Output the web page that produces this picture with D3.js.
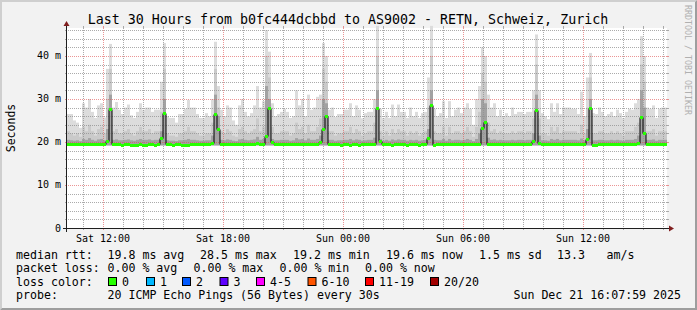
<!DOCTYPE html>
<html><head><meta charset="utf-8">
<script src="https://cdn.jsdelivr.net/npm/d3@7"></script>
<style>
body{margin:0;background:#f2f2f2}
svg{display:block}
text{font-family:"DejaVu Sans Mono",monospace}
</style>
</head><body>
<svg id="chart" width="697" height="310"></svg>
<script>
// ---- data (one column = 9 minutes, 200 columns = 30 hours) ----
const startTime = new Date(2025, 11, 20, 10, 12);
const endTime = new Date(2025, 11, 21, 16, 12);
const stepMinutes = 9;
const yMaxValue = 46.5;
const minPing = 19.2;

const pMax = [26.5,26.5,25,24.5,23.3,29,28,30,27,25.6,
28.5,29,25.7,37,42.8,28,29.3,27.5,26.5,28,
28.7,26.2,25.6,27,29,27.5,28,28,27,27.5,
27.5,34,43,26,25.6,25.6,24.5,26.5,26.5,27.7,
29.8,28,28,26.5,25.6,25.6,26.7,26,30,43.3,
33,27.5,26,28.5,28,25,24,28.5,30,27,
26,26.7,28.5,33,28,29.5,46,41,29,26,
26.5,27,27.7,27,25.6,26,32,28.5,30,26,
31,27.5,28,30.5,31,43,40,27.5,28,25.8,
26.5,26.5,27.5,27.5,29,26,28.5,27.5,25.5,26.7,
27,27,30,47,27.7,25.6,27,25.6,28.7,26,
28.7,27,27,25.6,28,26,27,25.6,26.7,27,
35,47,27.7,26,26.7,29.5,25.6,29.5,26,27.5,
28,26.7,28,29,27.7,24,30,33,42,40,
31,28,29,26,27.5,26,26.7,26,28,26.5,
27,27,26.5,27,27,32,45,32,26.7,26,
25.3,29,27,29,26.5,28,28,28,27.7,27.7,
26.5,31.7,26,35,40.7,26.7,26.5,28,27,26,
26.5,27,26,27.5,26.7,25.6,27,27.7,27.5,29,
30,44.6,40,28,27.7,28.5,25.6,27.7,28,28];

const pMid = [22.5,22,21.5,22,21.2,23.5,22.5,24,22.5,21.5,
23,23.5,22,30,37,22.5,23,22,22,22.5,
23,22,21.5,22.5,23.5,22.5,22.5,23,22,22.5,
22.5,27,37,22,21.5,21.5,21.2,22,22,22.5,
23.5,22.5,22.5,22,21.5,21.5,22,22,24.5,37,
28,22.5,22,23,22.5,21.5,21.2,23,23.5,22.5,
22,22.5,23,25.5,22.5,23.5,40,35,23.5,22,
22,22.5,22.5,22.5,21.5,22,24.5,23,23.5,22,
24,22.5,22.5,23.5,25.5,37,34,22.5,22.5,21.5,
22,22,22.5,22.5,23.5,22,23,22.5,21.5,22,
22.5,22.5,24.5,40,22.5,21.5,22.5,21.5,23,22,
23,22.5,22.5,21.5,22.5,22,22.5,21.5,22,22.5,
28,40,22.5,22,22,23.5,21.5,23.5,22,22.5,
22.5,22,22.5,23.5,22.5,21.2,23.5,27,36,34,
24.5,22.5,23,22,22.5,22,22,22,22.5,22,
22.5,22.5,22,22.5,22.5,25.5,38,25.5,22,22,
21.5,23.5,22.5,23.5,22,22.5,22.5,22.5,22.5,22.5,
22,24,22,28,35,22,22,22.5,22.5,22,
22,22.5,22,22.5,22,21.5,22.5,22.5,22.5,23.5,
24.5,38,34,22.5,22.5,23,21.5,22.5,22.5,22.5];

const pLow = [20.5,20.4,20.3,20.4,20.2,20.7,20.5,20.9,20.5,20.3,
20.6,20.7,20.4,23,31,20.5,20.6,20.4,20.4,20.5,
20.6,20.4,20.3,20.5,20.7,20.5,20.5,20.6,20.4,20.5,
20.5,22.5,30,20.4,20.3,20.3,20.2,20.4,20.4,20.5,
20.7,20.5,20.5,20.4,20.3,20.3,20.4,20.4,21.5,31,
26,20.5,20.4,20.6,20.5,20.3,20.2,20.6,20.7,20.5,
20.4,20.5,20.6,21.2,20.5,20.7,33,30,20.7,20.4,
20.4,20.5,20.5,20.5,20.3,20.4,20.9,20.6,20.7,20.4,
20.8,20.5,20.5,20.7,21.5,30,29,20.5,20.5,20.3,
20.4,20.4,20.5,20.5,20.7,20.4,20.6,20.5,20.3,20.4,
20.5,20.5,21,32,20.7,20.3,20.5,20.3,20.6,20.4,
20.6,20.5,20.5,20.3,20.5,20.4,20.5,20.3,20.4,20.5,
23,32,20.5,20.4,20.4,20.7,20.3,20.7,20.4,20.5,
20.5,20.4,20.5,20.7,20.5,20.2,20.7,22,30,29,
21,20.5,20.6,20.4,20.5,20.4,20.4,20.4,20.5,20.4,
20.5,20.5,20.4,20.5,20.5,22,31,21.5,20.4,20.4,
20.3,20.7,20.5,20.7,20.4,20.5,20.5,20.5,20.5,20.5,
20.4,20.8,20.4,23,30,20.4,20.4,20.5,20.5,20.4,
20.4,20.5,20.4,20.5,20.4,20.3,20.5,20.5,20.5,20.7,
21.5,32,28,20.5,20.5,20.6,20.3,20.5,20.5,20.5];

const median = [19.5,19.5,19.5,19.5,19.5,19.5,19.5,19.5,19.5,19.5,
19.5,19.5,19.6,20.2,27.7,19.6,19.5,19.5,19.4,19.5,
19.5,19.4,19.4,19.4,19.5,19.3,19.3,19.5,19.5,19.4,
19.5,20.9,26.8,19.5,19.5,19.4,19.5,19.5,19.4,19.4,
19.4,19.5,19.5,19.5,19.5,19.5,19.5,19.6,19.8,26.4,
23.1,19.5,19.5,19.6,19.5,19.5,19.5,19.5,19.5,19.5,
19.5,19.5,19.5,19.8,19.6,19.5,21.3,27.9,20.0,19.5,
19.5,19.5,19.5,19.5,19.5,19.5,19.5,19.5,19.5,19.5,
19.5,19.5,19.5,19.6,20.0,23.0,26.0,19.5,19.5,19.5,
19.5,19.4,19.5,19.5,19.4,19.5,19.5,19.4,19.5,19.5,
19.5,19.5,19.6,27.9,20.3,19.5,19.5,19.5,19.4,19.5,
19.5,19.5,19.5,19.4,19.5,19.5,19.5,19.4,19.5,19.5,
20.9,28.5,19.4,19.5,19.5,19.5,19.5,19.5,19.5,19.5,
19.5,19.5,19.5,19.5,19.5,19.5,19.5,19.5,23.3,24.6,
19.5,19.5,19.5,19.5,19.5,19.5,19.5,19.5,19.5,19.5,
19.5,19.5,19.5,19.5,19.6,20.3,27.5,19.8,19.5,19.5,
19.5,19.5,19.5,19.5,19.5,19.5,19.5,19.5,19.5,19.5,
19.5,19.5,19.5,20.8,27.9,19.2,19.4,19.5,19.5,19.5,
19.5,19.5,19.5,19.5,19.5,19.5,19.5,19.5,19.5,19.6,
19.8,25.7,22.1,19.5,19.5,19.5,19.5,19.5,19.5,19.5];

const yTickValues = [0, 10, 20, 30, 40];
const yTickLabels = ["0", "10 m", "20 m", "30 m", "40 m"];

const titleText = "Last 30 Hours from b0fc444dcbbd to AS9002 - RETN, Schweiz, Zurich";
const rttLabels = ["19.8 ms avg", "28.5 ms max", "19.2 ms min", "19.6 ms now", "1.5 ms sd", "13.3", "am/s"];
const lossLabels = ["0.00 % avg", "0.00 % max", "0.00 % min", "0.00 % now"];
const lossColorNames = ["0", "1", "2", "3", "4-5", "6-10", "11-19", "20/20"];
const lossColors = ["#26ff00", "#00b8ff", "#0059ff", "#5e00ff", "#ff00ff", "#ff5500", "#ff0000", "#a10000"];
const probeText = "20 ICMP Echo Pings (56 Bytes) every 30s";
const stampText = "Sun Dec 21 16:07:59 2025";

// ---- layout ----
const W = 697, H = 310;
const X0 = 67, X1 = 667, Y0 = 228, Y1 = 28;
const svg = d3.select("#chart");

const x = d3.scaleTime().domain([startTime, endTime]).range([X0, X1]);
const y = d3.scaleLinear().domain([0, yMaxValue]).range([Y0, Y1]);

// background + 3D frame
svg.append("rect").attr("width", W).attr("height", H).attr("fill", "#f2f2f2");
svg.append("path").attr("d", `M0,0 L${W},0 L${W-2},2 L2,2 L2,${H-2} L0,${H} Z`).attr("fill", "#cfcfcf");
svg.append("path").attr("d", `M${W},0 L${W},${H} L0,${H} L2,${H-2} L${W-2},${H-2} L${W-2},2 Z`).attr("fill", "#9e9e9e");

// plot canvas
svg.append("rect").attr("x", X0).attr("y", Y1).attr("width", X1 - X0).attr("height", Y0 - Y1).attr("fill", "#ffffff");

// columns
const colTime = i => d3.timeMinute.offset(startTime, i * stepMinutes);
const cols = median.map((m, i) => ({t0: colTime(i), t1: colTime(i + 1), m, hi: pMax[i], mid: pMid[i], low: pLow[i]}));

const smoke = svg.append("g");
[["hi", "#dcdcdc"], ["mid", "#cacaca"], ["low", "#a2a2a2"]].forEach(([k, c]) => {
  smoke.append("g").selectAll("rect").data(cols).join("rect")
    .attr("x", d => x(d.t0)).attr("width", d => x(d.t1) - x(d.t0))
    .attr("y", d => y(d[k])).attr("height", d => y(minPing) - y(d[k]))
    .attr("fill", c);
});

// grid
const grid = svg.append("g");
const minorColor = "rgba(143,143,143,0.75)", majorColor = "rgba(222,79,79,0.6)";
const hours = d3.timeHour.range(d3.timeHour.ceil(startTime), endTime);
hours.forEach(h => {
  const major = h.getHours() % 6 === 0;
  const xx = Math.round(x(h)) + 0.5;
  const col = major ? majorColor : minorColor;
  grid.append("line").attr("x1", xx).attr("x2", xx).attr("y1", Y0 + 1).attr("y2", Y1 - 1)
    .attr("stroke", col).attr("stroke-dasharray", "1,1");
  grid.append("line").attr("x1", xx).attr("x2", xx).attr("y1", Y0).attr("y2", Y0 + 2).attr("stroke", col);
  grid.append("line").attr("x1", xx).attr("x2", xx).attr("y1", Y1 - 2).attr("y2", Y1).attr("stroke", col);
});
d3.range(2, yMaxValue, 2).forEach(v => {
  const major = v % 10 === 0;
  const yy = Math.round(y(v)) + 0.5;
  const col = major ? majorColor : minorColor;
  grid.append("line").attr("x1", X0 - 1).attr("x2", X1 + 1).attr("y1", yy).attr("y2", yy)
    .attr("stroke", col).attr("stroke-dasharray", "1,1");
  grid.append("line").attr("x1", X0 - 2).attr("x2", X0).attr("y1", yy).attr("y2", yy).attr("stroke", col);
  grid.append("line").attr("x1", X1).attr("x2", X1 + 2).attr("y1", yy).attr("y2", yy).attr("stroke", col);
});

// median line (black steps) + loss-coloured segments
const stepData = cols.map(d => [d.t0, d.m]).concat([[cols[cols.length - 1].t1, cols[cols.length - 1].m]]);
svg.append("path").datum(stepData)
  .attr("d", d3.line().x(d => x(d[0])).y(d => Math.round(y(d[1])) + 0.5).curve(d3.curveStepAfter))
  .attr("fill", "none").attr("stroke", "#000").attr("stroke-width", 1);
svg.append("g").selectAll("rect").data(cols).join("rect")
  .attr("x", d => x(d.t0)).attr("width", d => x(d.t1) - x(d.t0))
  .attr("y", d => Math.round(y(d.m)) - 1).attr("height", 3)
  .attr("fill", lossColors[0]);

// axes
const axisCol = "#1f1f1f", arrowCol = "#801f1f";
svg.append("line").attr("x1", X0 - 4).attr("x2", X1 + 4).attr("y1", Y0 + 0.5).attr("y2", Y0 + 0.5).attr("stroke", axisCol);
svg.append("line").attr("x1", X0 - 0.5).attr("x2", X0 - 0.5).attr("y1", Y0 + 4).attr("y2", Y1 - 4).attr("stroke", axisCol);
svg.append("path").attr("d", `M${X1 + 2},${Y0 - 2.5} L${X1 + 2},${Y0 + 3.5} L${X1 + 7},${Y0 + 0.5} Z`).attr("fill", arrowCol);
svg.append("path").attr("d", `M${X0 - 3.5},${Y1 - 2} L${X0 + 2.5},${Y1 - 2} L${X0 - 0.5},${Y1 - 7} Z`).attr("fill", arrowCol);

// y tick labels
svg.append("g").selectAll("text").data(yTickValues).join("text")
  .attr("x", X0 - 6).attr("y", d => y(d) + 3.5).attr("text-anchor", "end")
  .attr("font-size", 10).attr("fill", "#000").text((d, i) => yTickLabels[i]);

// x tick labels
const majors = hours.filter(h => h.getHours() % 6 === 0);
const fmt = d3.timeFormat("%a %H:%M");
svg.append("g").selectAll("text").data(majors).join("text")
  .attr("x", d => x(d)).attr("y", 241.5).attr("text-anchor", "middle")
  .attr("font-size", 10).attr("fill", "#000").text(d => fmt(d));

// title
svg.append("text").attr("x", 348).attr("y", 24).attr("text-anchor", "middle")
  .attr("font-size", 13.3).attr("fill", "#000").text(titleText);

// y label
svg.append("text").attr("transform", "translate(14.5,128) rotate(-90)").attr("text-anchor", "middle")
  .attr("font-size", 11.5).attr("fill", "#000").text("Seconds");

// watermark
svg.append("text").attr("transform", "translate(685,5) rotate(90)").attr("text-anchor", "start")
  .attr("font-size", 8.3).attr("fill", "#b0b0b0").text("RRDTOOL / TOBI OETIKER");

// legend
const lf = 11.6;
const leg = svg.append("g").attr("font-size", lf).attr("fill", "#000");
const L1 = 258.5, L2 = 272, L3 = 285.7, L4 = 299.3;
leg.append("text").attr("x", 16).attr("y", L1).text("median rtt:");
const rttX = [107.5, 200, 293, 386, 479, 557, 606.5];
rttLabels.forEach((t, i) => leg.append("text").attr("x", rttX[i]).attr("y", L1).text(t));
leg.append("text").attr("x", 16).attr("y", L2).text("packet loss:");
const lossX = [107.5, 193.5, 279.5, 365];
lossLabels.forEach((t, i) => leg.append("text").attr("x", lossX[i]).attr("y", L2).text(t));
leg.append("text").attr("x", 16).attr("y", L3).text("loss color:");
const boxX = [108, 146, 182, 219.5, 256, 307.5, 365, 430];
lossColorNames.forEach((t, i) => {
  leg.append("rect").attr("x", boxX[i] + 0.5).attr("y", 277.5).attr("width", 8).attr("height", 8)
    .attr("fill", lossColors[i]).attr("stroke", "#000");
  leg.append("text").attr("x", boxX[i] + 14).attr("y", L3).text(t);
});
leg.append("text").attr("x", 16).attr("y", L4).text("probe:");
leg.append("text").attr("x", 107.5).attr("y", L4).text(probeText);
leg.append("text").attr("x", 681).attr("y", L4).attr("text-anchor", "end").text(stampText);
</script>
</body></html>
